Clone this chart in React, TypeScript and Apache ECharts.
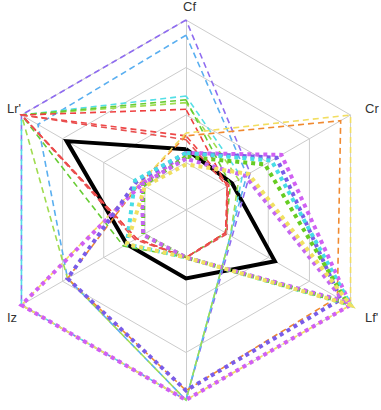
import React, { useEffect, useRef } from "react";
import * as echarts from "echarts";

// Axis order (ECharts radar runs counter-clockwise from the top)
const axisNames = ["Cf", "Lr'", "Iz", "m", "Lf'", "Cr"];
const axisMax = [1, 1, 1, 1, 1, 1];

// Normalised parameter sets: [Cf, Lr', Iz, m, Lf', Cr]
const nominal = [0.32, 0.725, 0.36, 0.36, 0.54, 0.28];

const dashPurple = [1.0, 1.0, 1.0, 1.0, 0.28, 0.39];
const dashBlue = [0.92, 0.9, 0.72, 1.0, 0.27, 0.37];
const dashCyan = [0.6, 1.0, 1.0, 1.0, 0.27, 0.34];
const dashLightGreen = [0.565, 1.0, 0.72, 1.0, 0.27, 0.32];
const dashGreen = [0.58, 1.0, 0.38, 0.25, 0.24, 0.27];
const dashRedA = [0.53, 1.0, 0.3, 0.25, 0.24, 0.25];
const dashRedB = [0.39, 1.0, 0.3, 0.25, 0.24, 0.26];
const dashRedC = [0.37, 1.0, 0.31, 0.25, 0.25, 0.25];
const dashOrange = [0.39, 0.28, 0.72, 0.95, 0.92, 0.94];
const dashYellow = [0.405, 0.28, 1.0, 1.0, 1.0, 1.0];

const dotMagenta = [0.3, 0.27, 1.0, 1.0, 1.0, 0.58];
const dotPurple = [0.3, 0.3, 0.72, 0.95, 0.94, 0.55];
const dotCyan = [0.3, 0.31, 0.36, 0.25, 1.0, 0.52];
const dotGreen = [0.28, 0.26, 0.26, 0.25, 0.98, 0.48];
const dotViolet = [0.27, 0.27, 0.26, 0.25, 0.96, 0.36];
const dotYellow = [0.24, 0.25, 0.36, 0.25, 1.0, 0.38];

const labelCf = "Cf";
const labelCr = "Cr";
const labelLf = "Lf'";
const labelIz = "Iz";
const labelLr = "Lr'";

const DASH = [6, 4];
const DOT = [4, 4];

function line(name: string, data: number[], color: string, type: any, width: number) {
  return {
    type: "radar",
    name,
    symbol: "none",
    silent: true,
    lineStyle: { color, type, width, cap: "butt", join: "miter" },
    data: [{ value: data, name }],
  };
}

export default function App() {
  const ref = useRef<HTMLDivElement>(null);

  useEffect(() => {
    document.body.style.margin = "0";
    const chart = echarts.init(ref.current!, undefined, { renderer: "svg" });
    const labelStyle = { fill: "#333", fontSize: 13, fontFamily: "Liberation Sans, Arial, sans-serif" };
    chart.setOption({
      animation: false,
      backgroundColor: "#fff",
      radar: {
        center: [186, 210],
        radius: 190,
        startAngle: 90,
        splitNumber: 4,
        shape: "polygon",
        indicator: axisNames.map((n, i) => ({ name: n, max: axisMax[i], min: 0 })),
        axisName: { show: false },
        axisLine: { lineStyle: { color: "#cccccc", width: 1 } },
        splitLine: { lineStyle: { color: "#cccccc", width: 1 } },
        splitArea: { show: false },
        axisTick: { show: false },
        axisLabel: { show: false },
      },
      series: [
        line("nominal", nominal, "#000000", "solid", 4),
        line("d1", dashPurple, "#8f6cf0", DASH, 1.6),
        line("d2", dashBlue, "#5aaff0", DASH, 1.6),
        line("d3", dashCyan, "#55dfe6", DASH, 1.6),
        line("d4", dashLightGreen, "#a0dc50", DASH, 1.6),
        line("d5", dashGreen, "#66cc33", DASH, 1.6),
        line("d6", dashRedA, "#ee4040", DASH, 1.6),
        line("d7", dashRedB, "#ee4848", DASH, 1.6),
        line("d8", dashRedC, "#e85050", DASH, 1.6),
        line("d9", dashOrange, "#f08a30", DASH, 1.6),
        line("d10", dashYellow, "#f2de60", DASH, 1.6),
        line("p1", dotMagenta, "#d060f2", DOT, 4),
        line("p2", dotPurple, "#7a5ce8", DOT, 4),
        line("p3", dotCyan, "#48dde6", DOT, 4),
        line("p4", dotGreen, "#66cc22", DOT, 4),
        line("p5", dotViolet, "#c466f0", DOT, 4),
        line("p6", dotYellow, "#f0e060", DOT, 4),
      ],
      graphic: [
        { type: "text", left: 183, top: 0, style: { ...labelStyle, text: labelCf } },
        { type: "text", left: 365, top: 102, style: { ...labelStyle, text: labelCr } },
        { type: "text", left: 365, top: 311, style: { ...labelStyle, text: labelLf } },
        { type: "text", left: 7, top: 311, style: { ...labelStyle, text: labelIz } },
        { type: "text", left: 7, top: 102, style: { ...labelStyle, text: labelLr } },
      ],
    });
    return () => chart.dispose();
  }, []);

  return (
    <div
      ref={ref}
      style={{ position: "absolute", left: 0, top: 0, width: 381, height: 410 }}
    />
  );
}
